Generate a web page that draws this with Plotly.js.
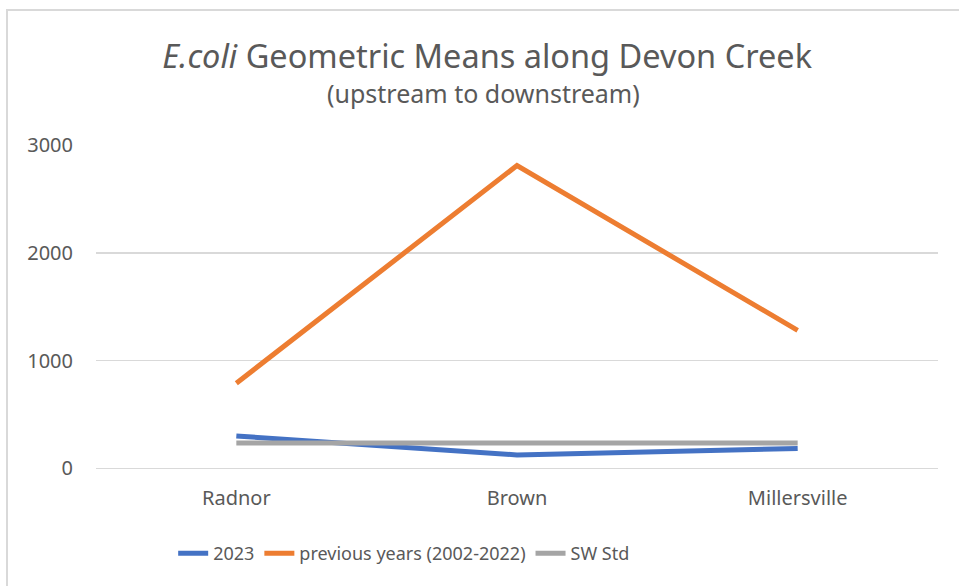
<!DOCTYPE html>
<html>
<head>
<meta charset="utf-8">
<script src="https://cdn.plot.ly/plotly-3.0.1.min.js"></script>
<style>
  html, body { margin: 0; padding: 0; background: #ffffff; }
  #wrap { position: relative; width: 959px; height: 586px; overflow: hidden; }
  #chart { position: absolute; left: 0; top: 0; width: 959px; height: 586px; }
  #frame { position: absolute; left: 6px; top: 9px; width: 1000px; height: 1000px;
           border-top: 2px solid #d9d9d9; border-left: 2px solid #d9d9d9; pointer-events: none; }
</style>
</head>
<body>
<div id="wrap">
  <div id="chart"></div>
  <div id="frame"></div>
</div>
<script>
const sites = ["Radnor", "Brown", "Millersville"];
const values2023 = [300, 125, 185];
const valuesPrevious = [790, 2810, 1280];
const valuesStd = [235, 235, 235];
const seriesNames = ["2023", "previous years (2002-2022)", "SW Std"];
const yTicks = [0, 1000, 2000, 3000];
const titleText = "<i>E.coli</i> Geometric Means along Devon Creek";
const subtitleText = "(upstream to downstream)";

const font = "'Noto Sans', 'Open Sans', sans-serif";

const traces = [
  { x: sites, y: values2023, name: seriesNames[0], type: "scatter", mode: "lines",
    line: { color: "#4472C4", width: 5 } },
  { x: sites, y: valuesPrevious, name: seriesNames[1], type: "scatter", mode: "lines",
    line: { color: "#ED7D31", width: 5 } },
  { x: sites, y: valuesStd, name: seriesNames[2], type: "scatter", mode: "lines",
    line: { color: "#A5A5A5", width: 5 } }
];

const layout = {
  width: 959, height: 586,
  paper_bgcolor: "#ffffff", plot_bgcolor: "#ffffff",
  margin: { l: 96, r: 21, t: 145, b: 116 },
  font: { family: font, color: "#595959" },
  title: {
    text: titleText,
    font: { family: font, size: 32.5, color: "#595959" },
    x: 0.508, xanchor: "center", y: 0.903, yanchor: "middle"
  },
  annotations: [{
    text: subtitleText, xref: "paper", yref: "paper", x: 0.46, y: 1.16,
    xanchor: "center", yanchor: "middle", showarrow: false,
    font: { family: font, size: 25, color: "#595959" }
  }],
  xaxis: {
    type: "category", range: [-0.5, 2.5],
    showgrid: false, zeroline: false, showline: false, ticks: "",
    ticklabelstandoff: 14,
    tickfont: { family: font, size: 20, color: "#595959" }
  },
  yaxis: {
    range: [-15, 3000], tickvals: yTicks, ticktext: yTicks.map(String),
    showgrid: true, gridcolor: "#d9d9d9", gridwidth: 1.5,
    zeroline: true, zerolinecolor: "#d9d9d9", zerolinewidth: 1.5,
    showline: false, ticks: "",
    ticklabelstandoff: 22,
    tickfont: { family: font, size: 20, color: "#595959" }
  },
  showlegend: true,
  legend: {
    orientation: "h", x: 0.366, xanchor: "center", y: -0.2, yanchor: "top",
    font: { family: font, size: 18, color: "#595959" },
    tracegroupgap: 0
  }
};

Plotly.newPlot("chart", traces, layout, { staticPlot: true, displayModeBar: false });
</script>
</body>
</html>
